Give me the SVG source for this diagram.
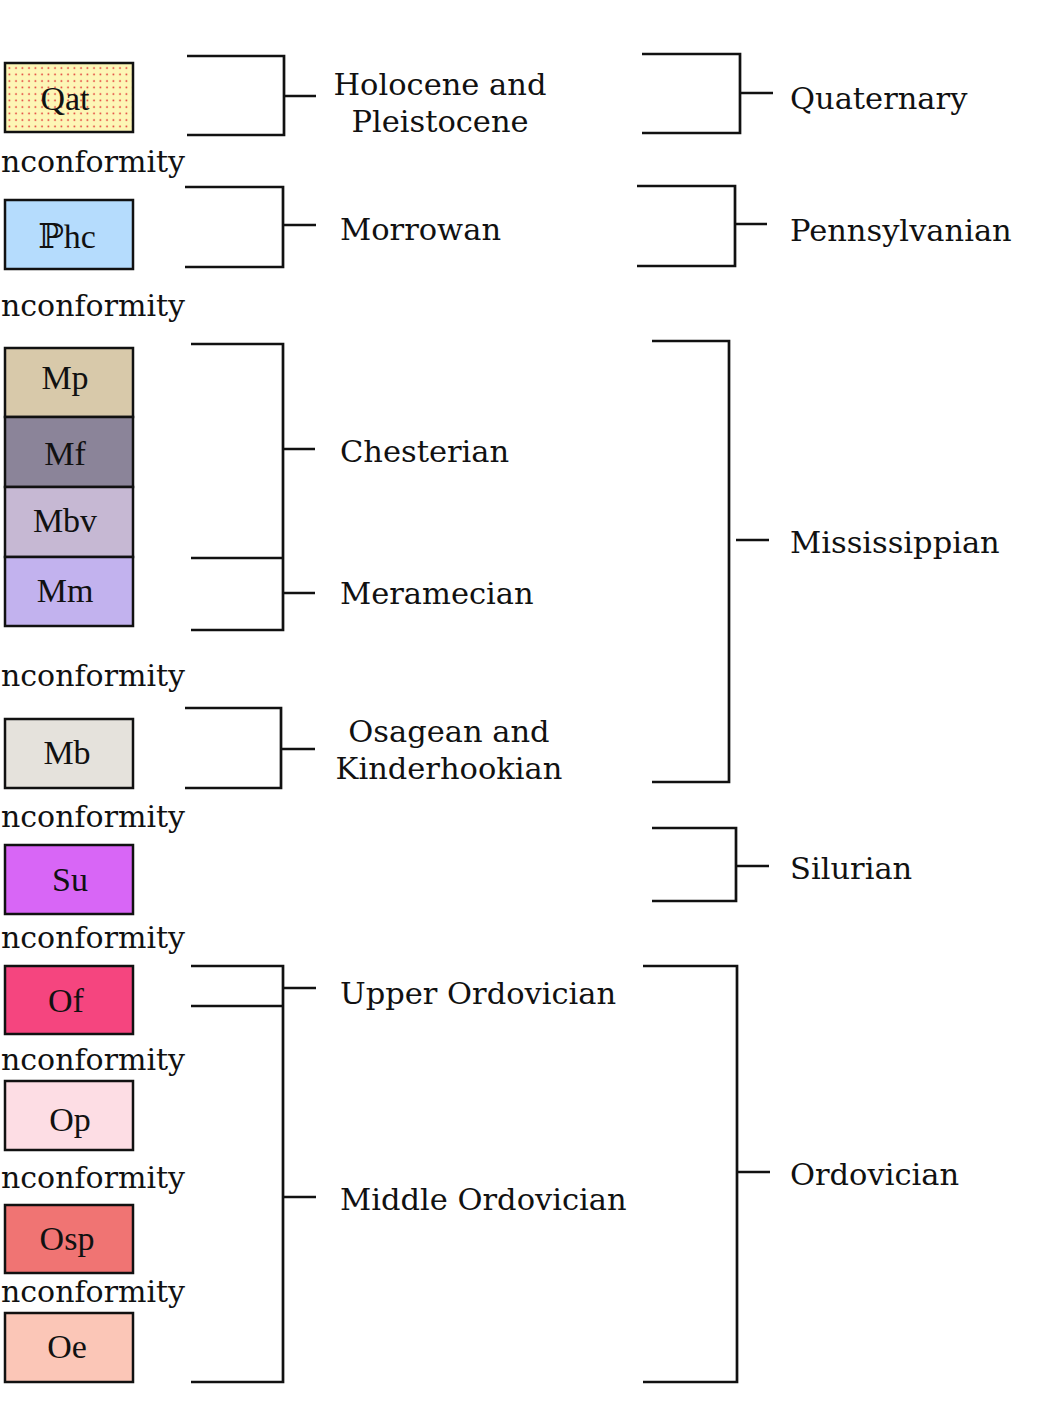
<svg xmlns="http://www.w3.org/2000/svg" width="1047" height="1420" viewBox="0 0 1047 1420">
<style>
.box{stroke:#111;stroke-width:2.5}
.bl{font-family:"Liberation Serif","DejaVu Serif",serif;font-size:34px;fill:#111;text-anchor:middle}
.lbl{font-family:"DejaVu Serif","Liberation Serif",serif;font-size:30.5px;fill:#111}
.unc{font-family:"DejaVu Serif","Liberation Serif",serif;font-size:30px;fill:#111}
.c{fill:none;stroke:#111;stroke-width:2.7}
</style>
<defs>
<pattern id="dots" width="6.5" height="6.5" patternUnits="userSpaceOnUse">
<rect width="6.5" height="6.5" fill="#fdf6b6"/>
<circle cx="3" cy="3" r="0.9" fill="#e03030"/>
</pattern>
</defs>
<rect width="1047" height="1420" fill="#fff"/>
<g id="units">
<g id="Qat"><rect class="box" x="5" y="63" width="128" height="69" fill="url(#dots)"/><text class="bl" x="65" y="110">Qat</text></g>
<g id="Phc"><rect class="box" x="5" y="200" width="128" height="69" fill="#b5dcfd"/><text class="bl" x="67" y="248">ℙhc</text></g>
<g id="Mp"><rect class="box" x="5" y="348" width="128" height="69" fill="#d8c9aa"/><text class="bl" x="65" y="389">Mp</text></g>
<g id="Mf"><rect class="box" x="5" y="417" width="128" height="70" fill="#8b8499"/><text class="bl" x="65" y="465">Mf</text></g>
<g id="Mbv"><rect class="box" x="5" y="487" width="128" height="70" fill="#c6b8d3"/><text class="bl" x="65" y="532">Mbv</text></g>
<g id="Mm"><rect class="box" x="5" y="557" width="128" height="69" fill="#c2b2ee"/><text class="bl" x="65" y="602">Mm</text></g>
<g id="Mb"><rect class="box" x="5" y="719" width="128" height="69" fill="#e5e2dc"/><text class="bl" x="67" y="764">Mb</text></g>
<g id="Su"><rect class="box" x="5" y="845" width="128" height="69" fill="#d866f6"/><text class="bl" x="70" y="891">Su</text></g>
<g id="Of"><rect class="box" x="5" y="966" width="128" height="68" fill="#f5457f"/><text class="bl" x="66" y="1012">Of</text></g>
<g id="Op"><rect class="box" x="5" y="1081" width="128" height="69" fill="#fddde4"/><text class="bl" x="70" y="1131">Op</text></g>
<g id="Osp"><rect class="box" x="5" y="1205" width="128" height="68" fill="#f07473"/><text class="bl" x="67" y="1250">Osp</text></g>
<g id="Oe"><rect class="box" x="5" y="1313" width="128" height="69" fill="#fbc6b7"/><text class="bl" x="67" y="1358">Oe</text></g>
</g>
<g id="unconformities">
<text class="unc" x="1" y="172">nconformity</text>
<text class="unc" x="1" y="316">nconformity</text>
<text class="unc" x="1" y="686">nconformity</text>
<text class="unc" x="1" y="827">nconformity</text>
<text class="unc" x="1" y="948">nconformity</text>
<text class="unc" x="1" y="1070">nconformity</text>
<text class="unc" x="1" y="1188">nconformity</text>
<text class="unc" x="1" y="1302">nconformity</text>
</g>
<g id="connectors">
<path class="c" d="M187 56H284V135H187M284 96H316"/>
<path class="c" d="M185 187H283V267H185M283 225H316"/>
<path class="c" d="M191 344H283V630H191M191 558H283M283 449H315M283 593H315"/>
<path class="c" d="M185 708H281V788H185M281 749H315"/>
<path class="c" d="M191 966H283V1382H191M191 1006H283M283 988H316M283 1197H316"/>
<path class="c" d="M642 54H740V133H642M740 93H773"/>
<path class="c" d="M637 186H735V266H637M735 224H767"/>
<path class="c" d="M652 341H729V782H652M736 540H769"/>
<path class="c" d="M652 828H736V901H652M736 866H769"/>
<path class="c" d="M643 966H737V1382H643M737 1172H770"/>
</g>
<g id="labels">
<g id="holocene"><text class="lbl" x="440" y="95" text-anchor="middle">Holocene and</text><text class="lbl" x="440" y="132" text-anchor="middle">Pleistocene</text></g>
<g id="morrowan"><text class="lbl" x="340" y="240">Morrowan</text></g>
<g id="chesterian"><text class="lbl" x="340" y="462">Chesterian</text></g>
<g id="meramecian"><text class="lbl" x="340" y="604">Meramecian</text></g>
<g id="osagean"><text class="lbl" x="449" y="742" text-anchor="middle">Osagean and</text><text class="lbl" x="449" y="779" text-anchor="middle">Kinderhookian</text></g>
<g id="upperord"><text class="lbl" x="340" y="1004">Upper Ordovician</text></g>
<g id="middleord"><text class="lbl" x="340" y="1210">Middle Ordovician</text></g>
<g id="quaternary"><text class="lbl" x="790" y="109">Quaternary</text></g>
<g id="pennsylvanian"><text class="lbl" x="790" y="241">Pennsylvanian</text></g>
<g id="mississippian"><text class="lbl" x="790" y="553">Mississippian</text></g>
<g id="silurian"><text class="lbl" x="790" y="879">Silurian</text></g>
<g id="ordovician"><text class="lbl" x="790" y="1185">Ordovician</text></g>
</g>
</svg>
